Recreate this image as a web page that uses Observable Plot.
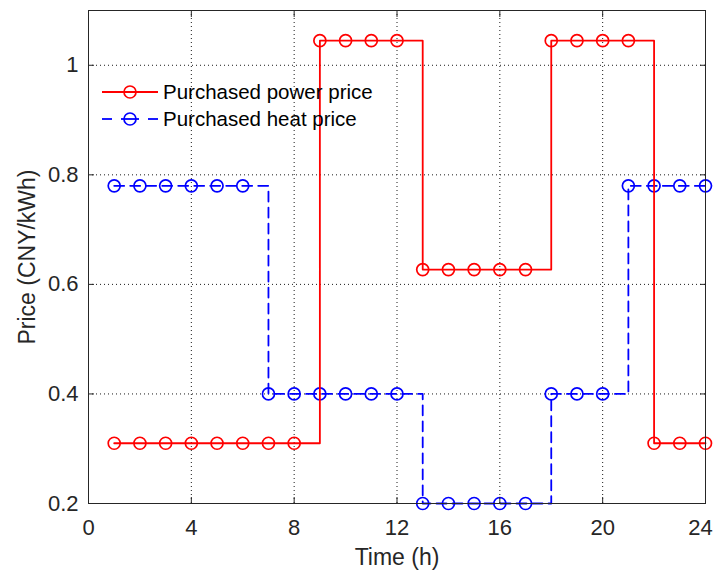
<!DOCTYPE html>
<html>
<head>
<meta charset="utf-8">
<script src="https://cdn.jsdelivr.net/npm/d3@7"></script>
<script src="https://cdn.jsdelivr.net/npm/@observablehq/plot@0.6"></script>
<style>
  html, body { margin: 0; padding: 0; background: #fff; }
  #chart svg { display: block; }
</style>
</head>
<body>
<div id="chart"></div>
<script>
// Data
const hours = d3.range(1, 25);
const powerPrice = [0.31,0.31,0.31,0.31,0.31,0.31,0.31,0.31,
                    1.045,1.045,1.045,1.045,
                    0.627,0.627,0.627,0.627,0.627,
                    1.045,1.045,1.045,1.045,
                    0.31,0.31,0.31];
const heatPrice = [0.78,0.78,0.78,0.78,0.78,0.78,
                   0.4,0.4,0.4,0.4,0.4,0.4,
                   0.2,0.2,0.2,0.2,0.2,
                   0.4,0.4,0.4,
                   0.78,0.78,0.78,0.78];
const seriesNames = ["Purchased power price", "Purchased heat price"];
const xTicks = [0, 4, 8, 12, 16, 20, 24];
const yTicks = [0.2, 0.4, 0.6, 0.8, 1];
const yTickLabels = ["0.2", "0.4", "0.6", "0.8", "1"];

const power = hours.map((h, i) => ({h, v: powerPrice[i]}));
const heat = hours.map((h, i) => ({h, v: heatPrice[i]}));

const RED = "#ff0000", BLUE = "#0000ff", INK = "#262626";
const FONT = "'Liberation Sans', Arial, Helvetica, sans-serif";

const chart = Plot.plot({
  width: 716,
  height: 576,
  marginLeft: 88,
  marginRight: 11,
  marginTop: 10,
  marginBottom: 73,
  style: {fontFamily: FONT, color: INK, background: "#fff", overflow: "visible"},
  x: {domain: [0, 24]},
  y: {domain: [0.2, 1.1]},
  marks: [
    Plot.gridX(xTicks, {stroke: "#1a1a1a", strokeOpacity: 1, strokeDasharray: "1,3"}),
    Plot.gridY(yTicks, {stroke: "#1a1a1a", strokeOpacity: 1, strokeDasharray: "1,3"}),
    Plot.lineY(heat, {x: "h", y: "v", curve: "step-after", stroke: BLUE, strokeWidth: 1.8, strokeDasharray: "10,6"}),
    Plot.dot(heat, {x: "h", y: "v", r: 6, stroke: BLUE, strokeWidth: 1.7, fill: "none"}),
    Plot.lineY(power, {x: "h", y: "v", curve: "step-after", stroke: RED, strokeWidth: 1.8}),
    Plot.dot(power, {x: "h", y: "v", r: 6, stroke: RED, strokeWidth: 1.7, fill: "none"}),
    Plot.frame({stroke: INK, strokeWidth: 1}),
    Plot.axisX(xTicks, {anchor: "bottom", tickSize: -6, tickPadding: 22, fontSize: 22, color: INK,
      label: "Time (h)", labelAnchor: "center", labelArrow: "none", labelOffset: 61}),
    Plot.axisX(xTicks, {anchor: "top", tickSize: -6, tickFormat: () => "", label: null, color: INK}),
    Plot.axisY(yTicks, {anchor: "left", tickSize: -6, tickPadding: 16, fontSize: 22, color: INK,
      tickFormat: (d) => yTickLabels[yTicks.indexOf(d)],
      label: "Price (CNY/kWh)", labelAnchor: "center", labelArrow: "none", labelOffset: 70}),
    Plot.axisY(yTicks, {anchor: "right", tickSize: -6, tickFormat: () => "", label: null, color: INK})
  ]
});

document.getElementById("chart").appendChild(chart);

// axis label font size
d3.select(chart).selectAll("g[aria-label='x-axis label'] text, g[aria-label='y-axis label'] text")
  .style("font-size", "23px");

// keep the last x tick label inside the picture, as in the reference
d3.select(chart).selectAll("text").each(function () {
  if (this.textContent === "24") {
    const t = this.getAttribute("transform") || "";
    this.setAttribute("transform", t + " translate(-5,0)");
  }
});

// Legend inside plot (top-left)
const svg = d3.select(chart);
const lg = svg.append("g").attr("class", "legend")
  .style("font-family", FONT).attr("text-anchor", "start");
const legendItems = [
  {name: seriesNames[0], color: RED, dash: false, y: 92},
  {name: seriesNames[1], color: BLUE, dash: true, y: 119}
];
for (const it of legendItems) {
  const segs = it.dash ? [[102, 112], [121, 139], [148, 158]] : [[102, 158]];
  for (const [a, b] of segs) {
    lg.append("line").attr("x1", a).attr("x2", b).attr("y1", it.y).attr("y2", it.y)
      .attr("stroke", it.color).attr("stroke-width", 1.8);
  }
  lg.append("circle").attr("cx", 130).attr("cy", it.y).attr("r", 6)
    .attr("fill", "none").attr("stroke", it.color).attr("stroke-width", 1.7);
  lg.append("text").attr("x", 163).attr("y", it.y).attr("dy", "0.35em")
    .attr("text-anchor", "start")
    .attr("fill", "#000").style("font-size", "20.5px").text(it.name);
}
</script>
</body>
</html>
